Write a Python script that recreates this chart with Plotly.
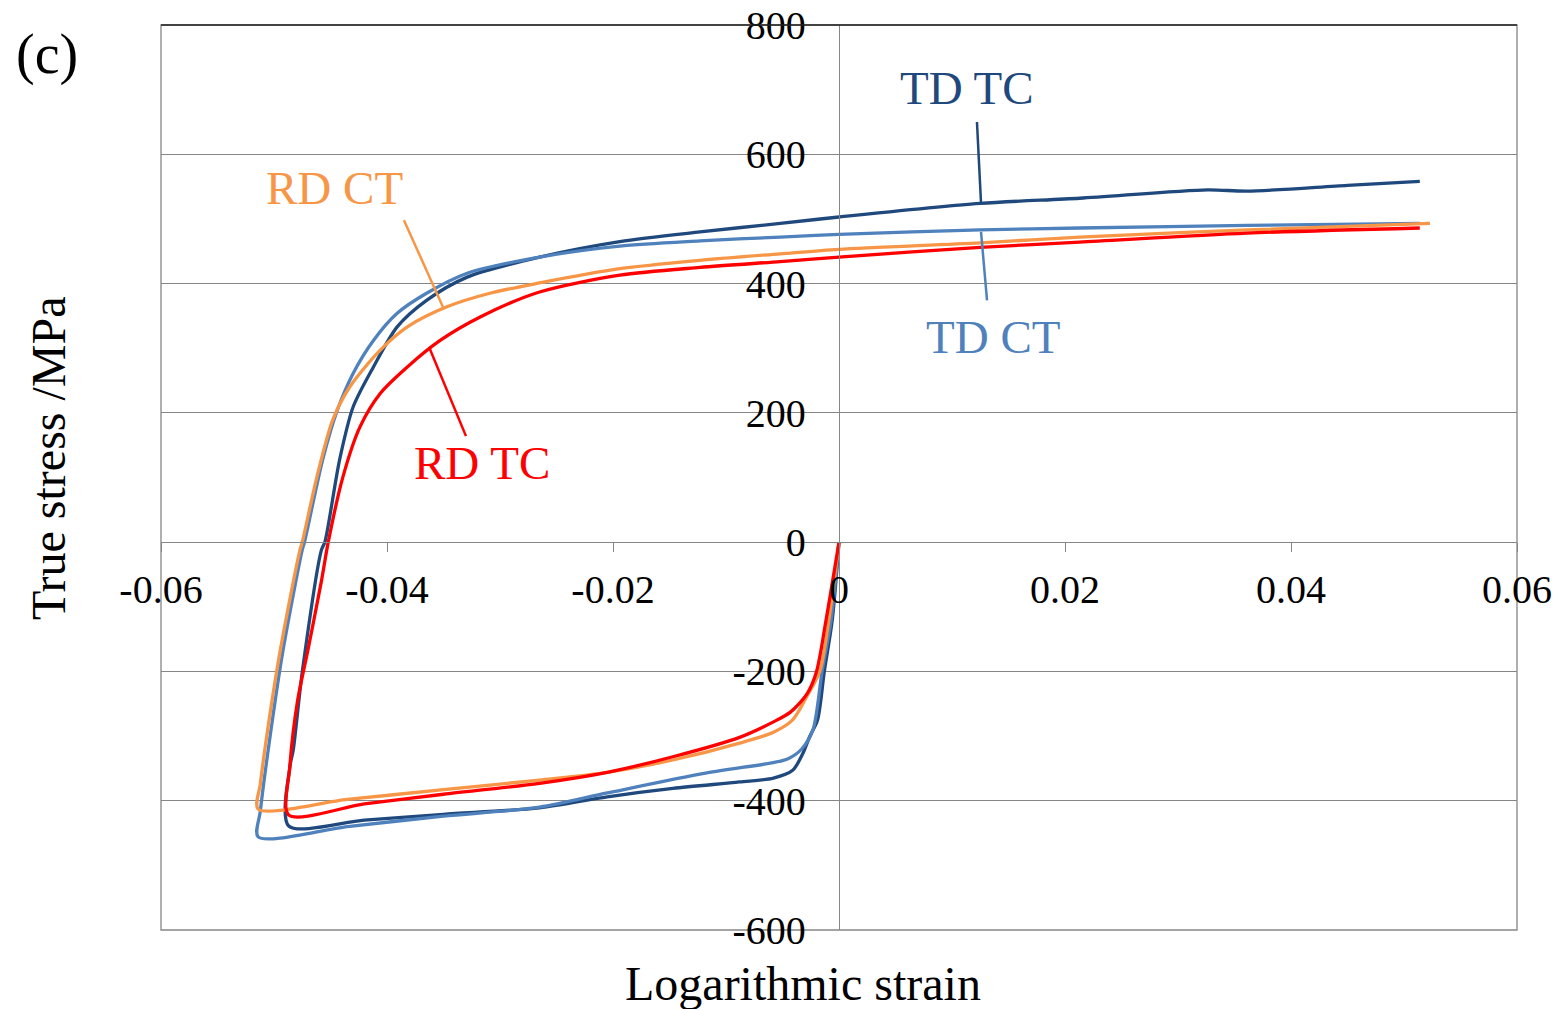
import plotly.graph_objects as go

# curves (logarithmic strain, true stress MPa)
td_tc_x = [0, -0.0006, -0.0013, -0.0019, -0.0026, -0.0032, -0.0041, -0.0058, -0.0088, -0.0147, -0.0205, -0.0265,
           -0.035, -0.042, -0.0487, -0.0486, -0.0483, -0.0475, -0.0458, -0.0455, -0.0442, -0.043, -0.0412, -0.0391,
           -0.0365, -0.0329, -0.0265, -0.0194, -0.0123, -0.0052, 0, 0.0125, 0.0213, 0.0326, 0.0361, 0.045, 0.0514]
td_tc_y = [0, -121, -200, -275, -301, -327, -353, -365, -371, -381, -394, -411,
           -421, -430, -439, -348, -322, -201, -12, 0, 127, 209, 271, 333,
           374, 410, 441, 465, 480, 493, 503, 524, 532, 545, 543, 552, 558]

td_ct_x = [0, -0.0007, -0.0015, -0.0023, -0.0033, -0.0045, -0.0058, -0.0117, -0.0205, -0.0265, -0.035, -0.0435,
           -0.0514, -0.0512, -0.0501, -0.0492, -0.0475, -0.0473, -0.0457, -0.0444, -0.043, -0.0412, -0.0391, -0.0365,
           -0.0329, -0.0265, -0.0194, -0.0123, -0.0052, 0, 0.0125, 0.0213, 0.0361, 0.0514]
td_ct_y = [0, -121, -200, -290, -320, -335, -341, -357, -388, -410, -424, -440,
           -456, -415, -270, -167, -12, 0, 127, 204, 261, 312, 354, 385,
           416, 441, 458, 466, 472, 476, 483, 486, 490, 493]

rd_ct_x = [0, -0.0009, -0.0017, -0.0028, -0.0041, -0.0058, -0.0088, -0.0147, -0.0205, -0.0265, -0.035, -0.0435,
           -0.0514, -0.0512, -0.0506, -0.0497, -0.0489, -0.0477, -0.0475, -0.0462, -0.0448, -0.0433, -0.0406, -0.0382,
           -0.0347, -0.0309, -0.0265, -0.0194, -0.0123, -0.0052, 0, 0.0125, 0.0213, 0.0361, 0.0523]
rd_ct_y = [0, -121, -200, -237, -275, -294, -311, -337, -356, -368, -383, -398,
           -413, -373, -295, -193, -116, -12, 0, 101, 189, 240, 297, 333,
           364, 385, 401, 423, 436, 446, 453, 463, 472, 483, 493]

rd_tc_x = [0, -0.00115, -0.002, -0.0028, -0.0043, -0.0058, -0.0088, -0.0147, -0.0205, -0.0265, -0.035, -0.042,
           -0.0487, -0.0486, -0.0479, -0.047, -0.0458, -0.0452, -0.0439, -0.0424, -0.0406, -0.0382, -0.0353, -0.0318,
           -0.0265, -0.0194, -0.0123, -0.0052, 0, 0.0125, 0.0213, 0.0361, 0.0514]
rd_tc_y = [0, -121, -201, -234, -263, -278, -302, -332, -356, -373, -390, -405,
           -422, -348, -244, -167, -60, 0, 101, 178, 230, 271, 312, 348,
           387, 413, 425, 434, 441, 456, 464, 478, 486]

x_ticks = [-0.06, -0.04, -0.02, 0, 0.02, 0.04, 0.06]
x_labels = ["-0.06", "-0.04", "-0.02", "0", "0.02", "0.04", "0.06"]
y_ticks = [-600, -400, -200, 0, 200, 400, 600, 800]
y_labels = ["-600", "-400", "-200", "0", "200", "400", "600", "800"]

FONT = "Liberation Serif"
GRID = "#868686"

series = [
    ("TD TC", td_tc_x, td_tc_y, "#1F497D"),
    ("TD CT", td_ct_x, td_ct_y, "#4F81BD"),
    ("RD CT", rd_ct_x, rd_ct_y, "#F79646"),
    ("RD TC", rd_tc_x, rd_tc_y, "#FF0000"),
]

fig = go.Figure()
for name, xs, ys, col in series:
    fig.add_trace(go.Scatter(x=xs, y=ys, mode="lines", name=name,
                             line=dict(color=col, width=3.3, shape="spline", smoothing=0.8)))

# labels with leader lines: (text, label x, label y, line start, line end, colour)
labels = [
    ("TD TC", 0.01133, 702, (0.01221, 650), (0.01257, 524), "#1F497D"),
    ("RD CT", -0.04469, 548, (-0.0385, 498), (-0.0350, 362), "#F79646"),
    ("TD CT", 0.01363, 317, (0.01257, 480), (0.01310, 374), "#4F81BD"),
    ("RD TC", -0.03159, 122, (-0.03628, 302), (-0.03301, 164), "#FF0000"),
]
for txt, lx, ly, p0, p1, col in labels:
    fig.add_annotation(x=lx, y=ly, text=txt, showarrow=False, xanchor="center", yanchor="middle",
                       font=dict(family=FONT, size=47, color=col))
    fig.add_shape(type="line", x0=p0[0], y0=p0[1], x1=p1[0], y1=p1[1],
                  line=dict(color=col, width=2.5))

# plot frame
fig.add_shape(type="rect", xref="paper", yref="paper", x0=0, y0=0, x1=1, y1=1,
              line=dict(color=GRID, width=1.3), layer="below")
fig.add_shape(type="line", xref="paper", yref="paper", x0=0, y0=1, x1=1, y1=1,
              line=dict(color="#222222", width=1.3))

fig.add_annotation(xref="paper", yref="paper", x=0.4735, y=-0.0586, text="Logarithmic strain",
                   xanchor="center", yanchor="middle",
                   showarrow=False, font=dict(family=FONT, size=48, color="black"))
fig.add_annotation(xref="paper", yref="paper", x=-0.0833, y=0.5215, text="True stress /MPa",
                   xanchor="center", yanchor="middle",
                   textangle=-90, showarrow=False, font=dict(family=FONT, size=48, color="black"))
fig.add_annotation(xref="paper", yref="paper", x=-0.0841, y=0.967, text="(c)",
                   xanchor="center", yanchor="middle",
                   showarrow=False, font=dict(family=FONT, size=56, color="black"))

fig.update_xaxes(range=[-0.06, 0.06], tickvals=x_ticks, ticktext=x_labels,
                 anchor="free", position=600 / 1400, showgrid=False, zeroline=False,
                 showline=True, linecolor=GRID, linewidth=1.3,
                 ticks="outside", ticklen=9, tickcolor=GRID, tickwidth=1.3,
                 ticklabelstandoff=3, ticklabeloverflow="allow",
                 tickfont=dict(family=FONT, size=40, color="black"))
fig.update_yaxes(range=[-600, 800], tickvals=y_ticks, ticktext=y_labels,
                 anchor="free", position=0.5, showgrid=True, gridcolor=GRID, gridwidth=1.3,
                 zeroline=False, showline=True, linecolor=GRID, linewidth=1.3,
                 ticks="", ticklabelstandoff=25, ticklabeloverflow="allow",
                 tickfont=dict(family=FONT, size=40, color="black"))

fig.update_layout(width=1564, height=1009, showlegend=False,
                  plot_bgcolor="white", paper_bgcolor="white",
                  margin=dict(l=161, r=47, t=25, b=79, autoexpand=False))

# drop the default page margin so the figure sits at the window's corner
fig.write_html("out.html", config={"displayModeBar": False},
               post_script="document.body.style.margin='0';document.body.style.overflow='hidden';")
